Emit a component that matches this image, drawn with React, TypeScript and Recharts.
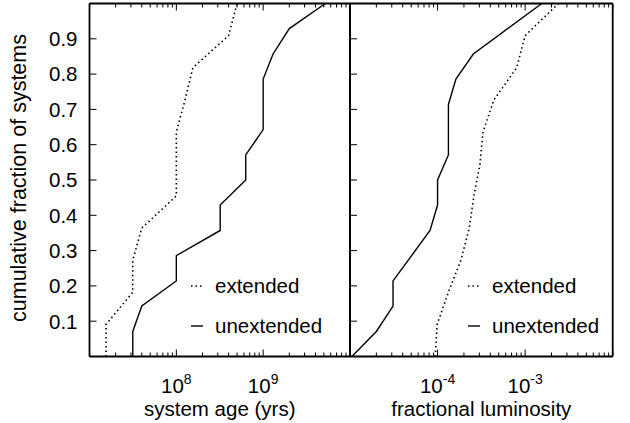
import { LineChart, Line, XAxis, YAxis, Legend } from 'recharts';

const FONT = '"Liberation Sans", Arial, Helvetica, sans-serif';

// y axis
const fracTicks = [0.1, 0.2, 0.3, 0.4, 0.5, 0.6, 0.7, 0.8, 0.9];

// x axes (log decades + labelled ticks)
const ageDecades = [1e7, 1e8, 1e9, 1e10];
const ageLabelTicks = [1e8, 1e9];
const ageLabelExps = ['8', '9'];
const lumDecades = [1e-5, 1e-4, 1e-3, 1e-2];
const lumLabelTicks = [1e-4, 1e-3];
const lumLabelExps = ['-4', '-3'];

// cumulative distributions
const ageExtX = [1.55e7, 1.55e7, 3.15e7, 3.15e7, 4.0e7, 1.0e8, 1.0e8, 1.0e8, 1.26e8, 1.55e8, 4.0e8, 5.0e8];
const ageExtY = [0, 0.091, 0.182, 0.273, 0.364, 0.455, 0.545, 0.636, 0.727, 0.818, 0.909, 1];
const ageUnextX = [3.15e7, 3.15e7, 4.0e7, 1.0e8, 1.0e8, 3.2e8, 3.2e8, 6.3e8, 6.3e8, 1.0e9, 1.0e9, 1.0e9, 1.3e9, 2.0e9, 5.2e9];
const ageUnextY = [0, 0.071, 0.143, 0.214, 0.286, 0.357, 0.429, 0.5, 0.571, 0.643, 0.714, 0.786, 0.857, 0.929, 1];
const lumExtX = [9.4e-5, 9.9e-5, 1.33e-4, 1.85e-4, 2.3e-4, 2.6e-4, 3.05e-4, 3.3e-4, 4.4e-4, 8.0e-4, 1.0e-3, 2.4e-3];
const lumExtY = [0, 0.091, 0.182, 0.273, 0.364, 0.455, 0.545, 0.636, 0.727, 0.818, 0.909, 1];
const lumUnextX = [1.05e-5, 2.0e-5, 3.1e-5, 3.1e-5, 8.2e-5, 1.0e-4, 1.0e-4, 1.33e-4, 1.33e-4, 1.62e-4, 2.56e-4, 1.55e-3];
const lumUnextY = [0, 0.071, 0.143, 0.214, 0.357, 0.429, 0.5, 0.571, 0.714, 0.786, 0.857, 1];

const legendNames = ['extended', 'unextended'];

const zip = (xs: number[], ys: number[]) => xs.map((x, i) => ({ x, y: ys[i] }));

// minor ticks 2..9 inside each decade, plus the decades themselves
const logTicks = (decades: number[]) => {
  const out: number[] = [];
  decades.forEach((d, i) => {
    out.push(d);
    if (i < decades.length - 1) for (let k = 2; k <= 9; k++) out.push(k * d);
  });
  return out;
};

const isMajor = (v: number) => {
  const l = Math.log10(v);
  return Math.abs(l - Math.round(l)) < 1e-6;
};

const makeXTick = (side: 'top' | 'bottom', labelTicks: number[], exps: string[]) => (props: any) => {
  const { x, y, payload } = props;
  const v = payload.value;
  const len = isMajor(v) ? 7 : 4;
  const dir = side === 'bottom' ? -1 : 1;
  const i = labelTicks.findIndex((t) => Math.abs(t - v) / t < 1e-6);
  return (
    <g>
      <line x1={x} y1={y} x2={x} y2={y + dir * len} stroke="#000" strokeWidth={1} />
      {side === 'bottom' && i >= 0 && (
        <text x={x} y={y + 36} textAnchor="middle" fontSize={20.5} fontFamily={FONT} fill="#000">
          <tspan>10</tspan>
          <tspan dy={-9} fontSize={14}>{exps[i]}</tspan>
        </text>
      )}
    </g>
  );
};

const makeYTick = (side: 'left' | 'right', showLabel: boolean) => (props: any) => {
  const { x, y, payload } = props;
  const dir = side === 'left' ? 1 : -1;
  return (
    <g>
      <line x1={x} y1={y} x2={x + dir * 7} y2={y} stroke="#000" strokeWidth={1} />
      {showLabel && (
        <text x={x - 12} y={y} dy="0.36em" textAnchor="end" fontSize={20.5} fontFamily={FONT} fill="#000">
          {payload.value.toFixed(1)}
        </text>
      )}
    </g>
  );
};

const xTitle = (text: string) => (p: any) => {
  const vb = p.viewBox;
  return (
    <text x={vb.x + vb.width / 2} y={vb.y + 59} textAnchor="middle" fontSize={20.5} fontFamily={FONT} fill="#000">
      {text}
    </text>
  );
};

const yTitle = (p: any) => {
  const vb = p.viewBox;
  const cx = vb.x - 70;
  const cy = vb.y + vb.height / 2 - 2;
  return (
    <text x={cx} y={cy} transform={`rotate(-90 ${cx} ${cy})`} dy="0.35em" textAnchor="middle" fontSize={21.5} fontFamily={FONT} fill="#000">
      cumulative fraction of systems
    </text>
  );
};

const legendContent = () => (
  <div style={{ fontFamily: FONT, fontSize: 20.5, color: '#000' }}>
    {legendNames.map((name, i) => (
      <div key={name} style={{ display: 'flex', alignItems: 'center', height: 40 }}>
        <svg width={12} height={4} style={{ marginRight: 12 }}>
          <line x1={0} y1={2} x2={12} y2={2} stroke="#000" strokeWidth={i === 0 ? 1.5 : 1.4} strokeDasharray={i === 0 ? '1.5 3' : undefined} />
        </svg>
        <span>{name}</span>
      </div>
    ))}
  </div>
);

type PanelProps = {
  width: number;
  margin: { top: number; right: number; bottom: number; left: number };
  decades: number[];
  labelTicks: number[];
  labelExps: string[];
  ext: { x: number; y: number }[];
  unext: { x: number; y: number }[];
  title: string;
  showYLabels: boolean;
  legendLeft: number;
};

function Panel(p: PanelProps) {
  const ticks = logTicks(p.decades);
  const domain = [p.decades[0], p.decades[p.decades.length - 1]];
  const axisLine = { stroke: '#000', strokeWidth: 1.8 };
  return (
    <LineChart width={p.width} height={423} margin={p.margin}>
      <XAxis
        xAxisId="b"
        dataKey="x"
        type="number"
        scale="log"
        domain={domain}
        allowDataOverflow
        ticks={ticks}
        interval={0}
        height={1}
        tickSize={0}
        tickMargin={0}
        axisLine={axisLine}
        tick={makeXTick('bottom', p.labelTicks, p.labelExps)}
        label={{ content: xTitle(p.title) }}
      />
      <XAxis
        xAxisId="t"
        orientation="top"
        dataKey="x"
        type="number"
        scale="log"
        domain={domain}
        allowDataOverflow
        ticks={ticks}
        interval={0}
        height={1}
        tickSize={0}
        tickMargin={0}
        axisLine={axisLine}
        tick={makeXTick('top', p.labelTicks, p.labelExps)}
      />
      <YAxis
        yAxisId="l"
        type="number"
        domain={[0, 1]}
        ticks={fracTicks}
        interval={0}
        width={1}
        tickSize={0}
        tickMargin={0}
        axisLine={axisLine}
        tick={makeYTick('left', p.showYLabels)}
        label={p.showYLabels ? { content: yTitle } : undefined}
      />
      <YAxis
        yAxisId="r"
        orientation="right"
        type="number"
        domain={[0, 1]}
        ticks={fracTicks}
        interval={0}
        width={1}
        tickSize={0}
        tickMargin={0}
        axisLine={axisLine}
        tick={makeYTick('right', false)}
      />
      <Line
        xAxisId="b"
        yAxisId="l"
        data={p.ext}
        dataKey="y"
        type="linear"
        stroke="#000"
        strokeWidth={1.6}
        strokeDasharray="1.5 3"
        dot={false}
        isAnimationActive={false}
      />
      <Line
        xAxisId="b"
        yAxisId="l"
        data={p.unext}
        dataKey="y"
        type="linear"
        stroke="#000"
        strokeWidth={1.4}
        dot={false}
        isAnimationActive={false}
      />
      <Legend
        layout="vertical"
        align="center"
        verticalAlign="middle"
        content={legendContent}
        wrapperStyle={{ position: 'absolute', left: p.legendLeft, top: 266, width: 170, height: 80 }}
      />
    </LineChart>
  );
}

export default function App() {
  return (
    <div style={{ position: 'absolute', left: 0, top: 0, width: 630, height: 423, background: '#fff', fontFamily: FONT }}>
      <div style={{ position: 'absolute', left: 0, top: 0 }}>
        <Panel
          width={352}
          margin={{ top: 2.5, right: 1, bottom: 65.5, left: 88.5 }}
          decades={ageDecades}
          labelTicks={ageLabelTicks}
          labelExps={ageLabelExps}
          ext={zip(ageExtX, ageExtY)}
          unext={zip(ageUnextX, ageUnextY)}
          title="system age (yrs)"
          showYLabels
          legendLeft={191}
        />
      </div>
      <div style={{ position: 'absolute', left: 340, top: 0 }}>
        <Panel
          width={290}
          margin={{ top: 2.5, right: 16.3, bottom: 65.5, left: 9 }}
          decades={lumDecades}
          labelTicks={lumLabelTicks}
          labelExps={lumLabelExps}
          ext={zip(lumExtX, lumExtY)}
          unext={zip(lumUnextX, lumUnextY)}
          title="fractional luminosity"
          showYLabels={false}
          legendLeft={128}
        />
      </div>
    </div>
  );
}
